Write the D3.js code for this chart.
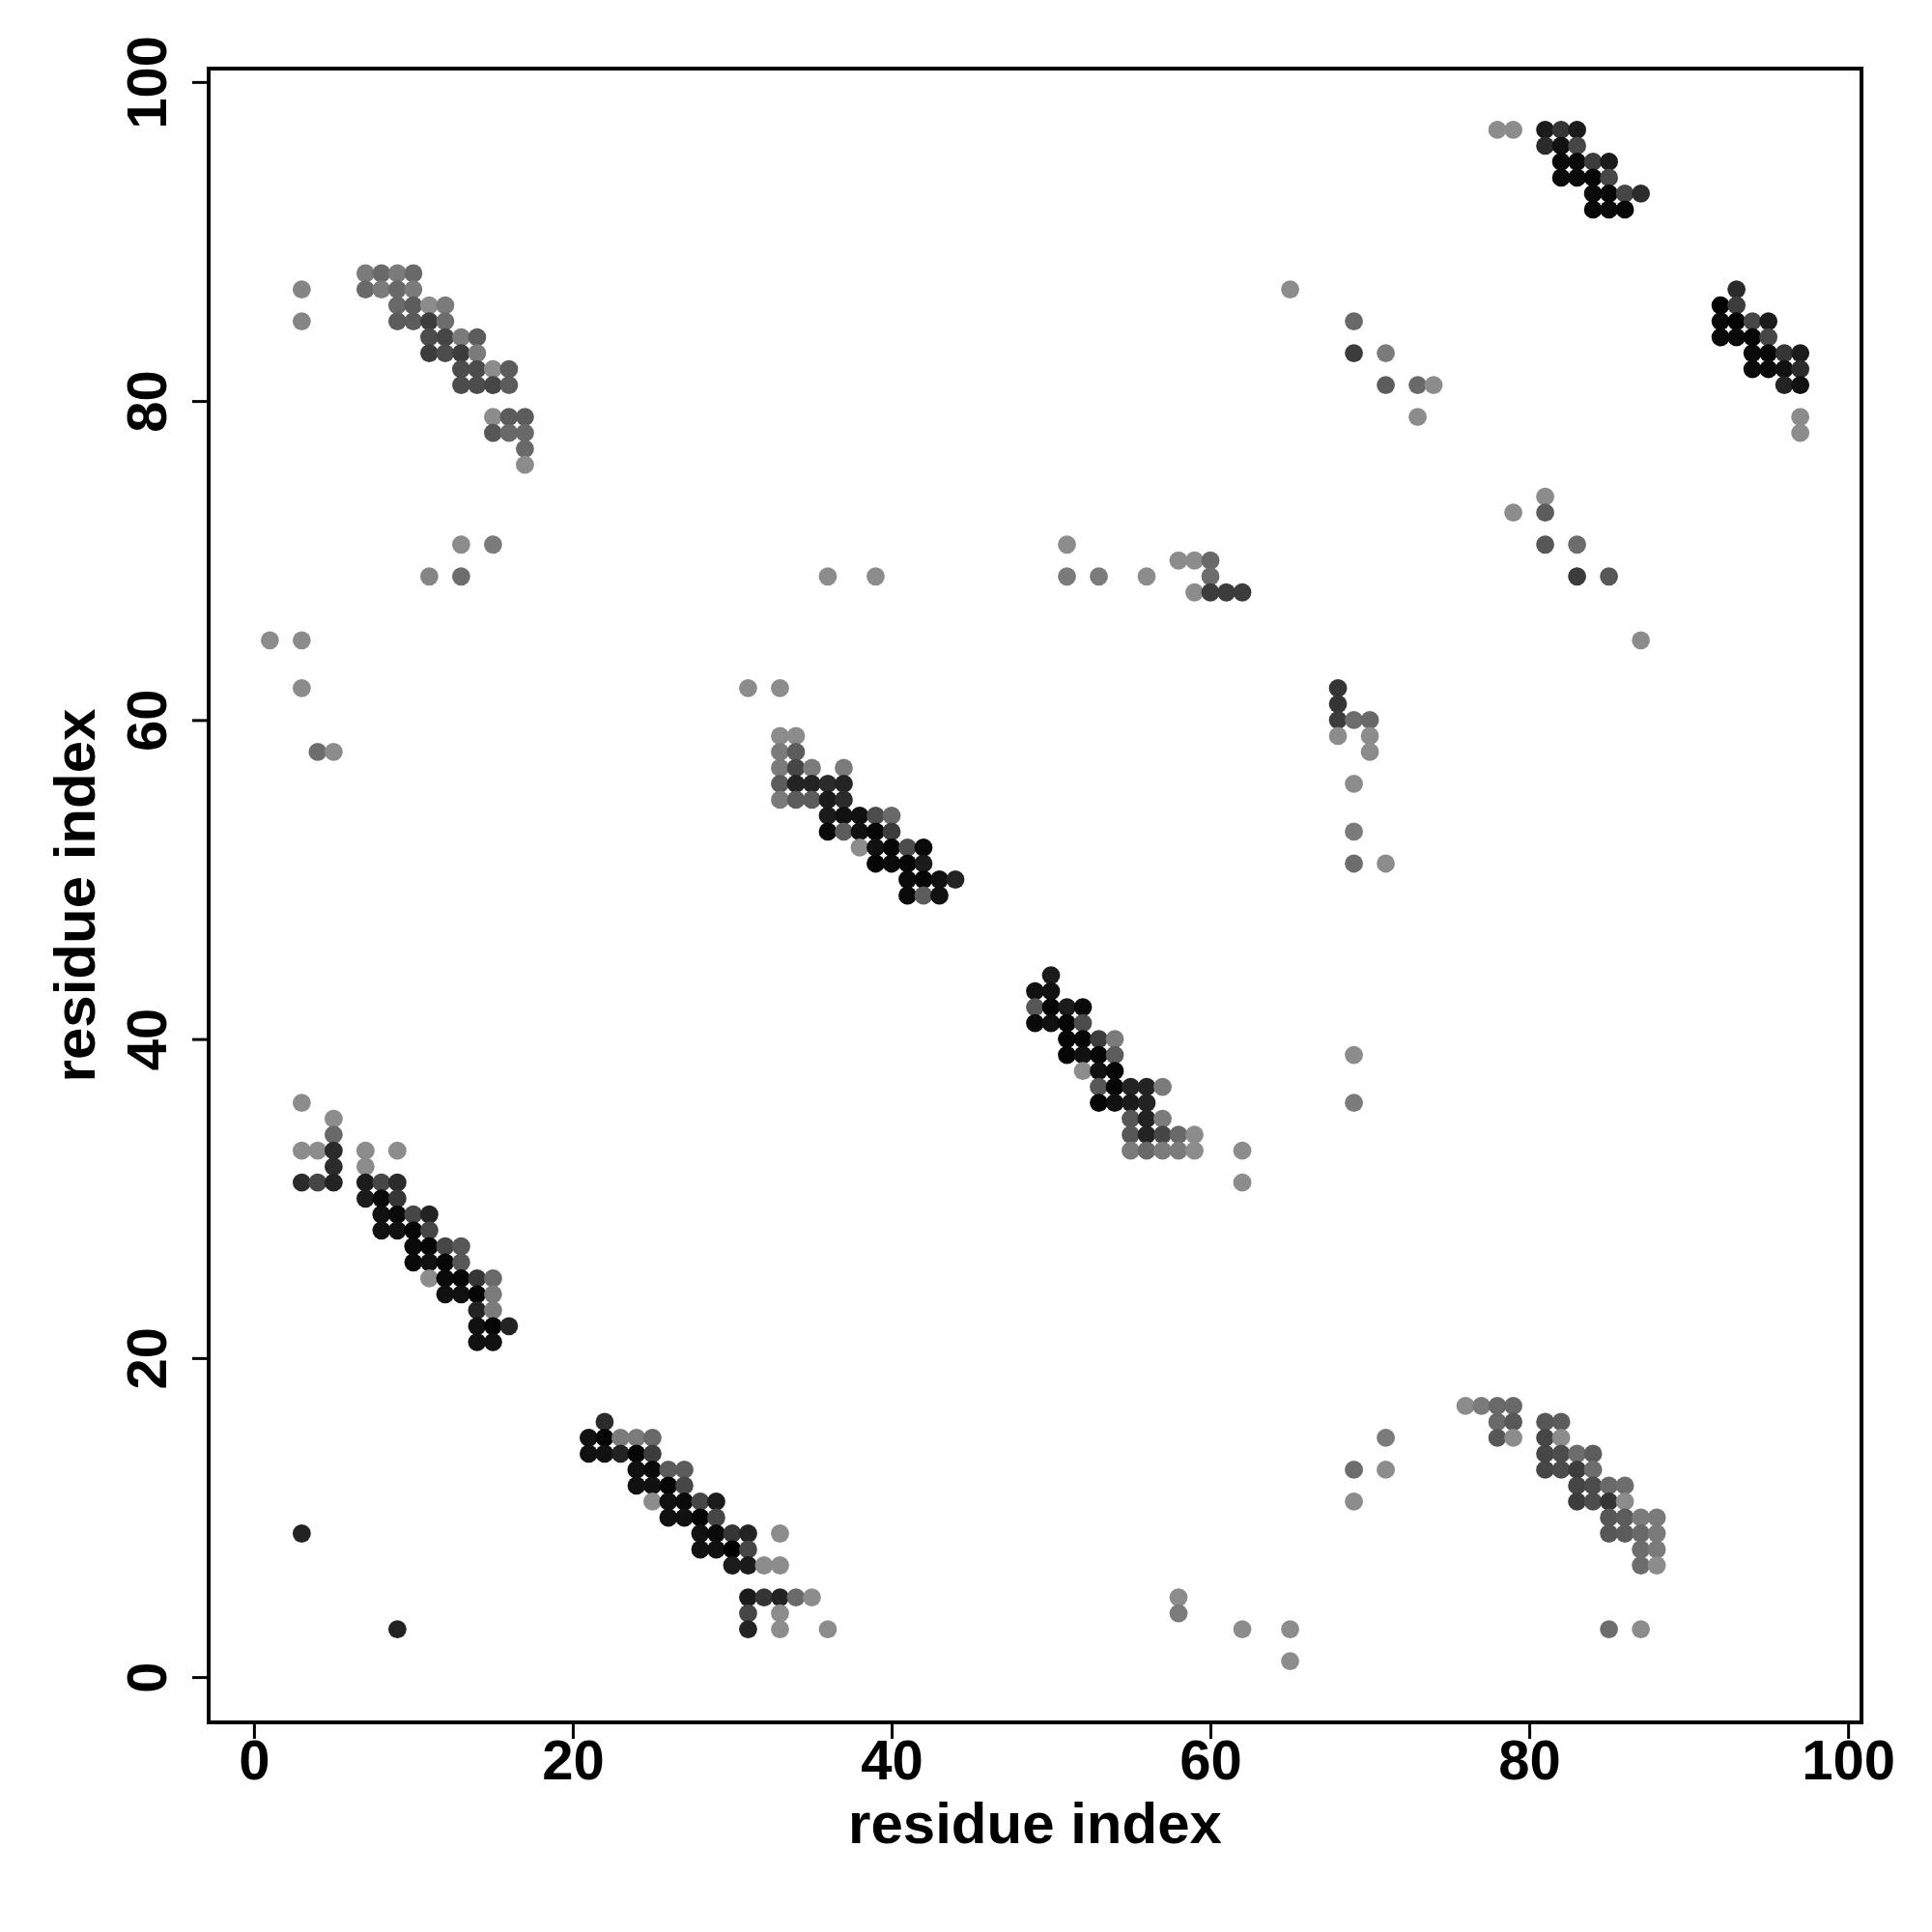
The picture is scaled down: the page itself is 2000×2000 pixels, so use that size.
<!DOCTYPE html>
<html>
<head>
<meta charset="utf-8">
<script src="https://cdn.jsdelivr.net/npm/d3@7"></script>
<style>
  body { margin: 0; background: #fff; }
  text { font-family: "Liberation Sans", Arial, sans-serif; font-weight: bold; }
</style>
</head>
<body>
<svg id="chart"></svg>
<script>
// contacts as [i, j, score]; score 0 = weak (light grey), 1 = strong (black)
const strandTopLeft = [
  [3,87,.05],[3,85,.05],
  [7,88,.12],[8,88,.25],[9,88,.12],[10,88,.25],
  [7,87,.25],[8,87,.12],[9,87,.25],[10,87,.12],
  [9,86,.25],[10,86,.34],[11,86,0],[12,86,.12],
  [9,85,.34],[10,85,.34],[11,85,.57],[12,85,.22],
  [11,84,.46],[12,84,.5],[13,84,.12],[14,84,.34],
  [11,83,.57],[12,83,.46],[13,83,.57],[14,83,.12],
  [13,82,.46],[14,82,.46],[15,82,0],[16,82,.34],
  [13,81,.46],[14,81,.46],[15,81,.5],[16,81,.34],
  [15,79,0],[16,79,.34],[17,79,.34],
  [15,78,.38],[16,78,.25],[17,78,.25],
  [17,77,.25],[17,76,0]
];
const sparseLeft = [
  [13,71,0],[15,71,.12],[11,69,.05],[13,69,.22],
  [1,65,0],[3,65,0],[3,62,0],[4,58,.22],[5,58,0],
  [3,9,.75],[9,3,.75]
];
const strandBottomLeft = [
  [3,36,0],[5,35,0],[5,34,.25],
  [3,33,0],[4,33,0],[5,33,.69],[7,33,0],[9,33,0],
  [5,32,.69],[7,32,0],
  [3,31,.69],[4,31,.5],[5,31,.75],[7,31,.81],[8,31,.5],[9,31,.69],
  [7,30,.81],[8,30,.93],[9,30,.62],
  [8,29,.88],[9,29,.93],[10,29,.5],[11,29,.75],
  [8,28,.88],[9,28,.88],[10,28,.96],[11,28,.5],
  [10,27,.93],[11,27,.96],[12,27,.5],[13,27,.38],
  [10,26,.93],[11,26,.88],[12,26,.96],[13,26,.38],
  [11,25,0],[12,25,.93],[13,25,.96],[14,25,.62],[15,25,.25],
  [12,24,.88],[13,24,.88],[14,24,.96],[15,24,.12],
  [14,23,.75],[15,23,.12],
  [14,22,.88],[15,22,.96],[16,22,.75],
  [14,21,.88],[15,21,.88]
];
const strandBottomMid = [
  [22,16,.69],
  [21,15,.88],[22,15,.96],[23,15,.12],[24,15,.12],[25,15,.25],
  [21,14,.88],[22,14,.88],[23,14,.75],[24,14,.96],[25,14,.57],
  [24,13,.88],[25,13,.93],[26,13,.34],[27,13,.34],
  [24,12,.88],[25,12,.88],[26,12,.96],[27,12,.5],
  [25,11,0],[26,11,.88],[27,11,.93],[28,11,.5],[29,11,.81],
  [26,10,.88],[27,10,.88],[28,10,.96],[29,10,.5],
  [28,9,.88],[29,9,.93],[30,9,.62],[31,9,.75],[33,9,0],
  [28,8,.88],[29,8,.88],[30,8,1],[31,8,.5],
  [30,7,.81],[31,7,.81],[32,7,0],[33,7,0],
  [31,5,.81],[32,5,.62],[33,5,.75],[34,5,.25],[35,5,0],
  [31,4,.5],[33,4,0],
  [31,3,.75],[33,3,0],[36,3,0]
];
const strandMiddle = [
  [31,62,0],[33,62,0],[36,69,0],[39,69,0],
  [33,59,0],[34,59,0],
  [33,58,.12],[34,58,.34],
  [33,57,.12],[34,57,.5],[35,57,.12],[37,57,.12],
  [33,56,.34],[34,56,.75],[35,56,.75],[36,56,.69],[37,56,.75],
  [33,55,.12],[34,55,.34],[35,55,.34],[36,55,.81],[37,55,.69],
  [36,54,.81],[37,54,.88],[38,54,.88],[39,54,.46],[40,54,.25],
  [36,53,.93],[37,53,.34],[38,53,.88],[39,53,.96],[40,53,.57],
  [38,52,0],[39,52,.88],[40,52,.96],[41,52,.46],[42,52,.93],
  [39,51,.96],[40,51,.93],[41,51,.96],[42,51,.81],
  [41,50,.93],[42,50,.96],[43,50,.88],[44,50,.75],
  [41,49,.93],[42,49,.34],[43,49,.88]
];
const strandCenter = [
  [50,44,.81],
  [49,43,.88],[50,43,.88],
  [49,42,.38],[50,42,.96],[51,42,.81],[52,42,.93],
  [49,41,.93],[50,41,.88],[51,41,.96],[52,41,.46],
  [51,40,.96],[52,40,.96],[53,40,.57],[54,40,.12],
  [51,39,.96],[52,39,.88],[53,39,.96],[54,39,.34],
  [52,38,0],[53,38,.88],[54,38,.96],
  [53,37,.38],[54,37,.96],[55,37,.75],[56,37,.75],[57,37,.12],
  [53,36,.96],[54,36,.88],[55,36,.81],[56,36,.75],
  [55,35,.38],[56,35,.75],[57,35,.12],
  [55,34,.38],[56,34,.75],[57,34,.5],[58,34,.25],[59,34,0],
  [55,33,.12],[56,33,.25],[57,33,.12],[58,33,.12],[59,33,0],
  [62,33,0],[62,31,0]
];
const sparseUpperMid = [
  [51,71,0],[51,69,.12],[53,69,.12],[56,69,0],
  [58,70,0],[59,70,0],[60,70,.25],[60,69,.22],
  [59,68,0],[60,68,.57],[61,68,.57],[62,68,.57],
  [65,87,0],[69,85,.25],[69,83,.57],[71,83,.12],
  [71,81,.34],[73,81,.25],[74,81,0],[73,79,0]
];
const sparseColumn = [
  [68,62,.62],[68,61,.62],[68,60,.57],[69,60,.22],[70,60,.25],
  [68,59,0],[70,59,0],[70,58,0],[69,56,0],[69,53,.12],
  [69,51,.22],[71,51,0],[69,39,0],[69,36,.12]
];
const strandBottomRight = [
  [58,5,0],[58,4,.12],[62,3,0],[65,3,0],[65,1,0],
  [69,13,.22],[71,15,.12],[71,13,0],[69,11,0],
  [76,17,0],[77,17,.12],[78,17,.25],[79,17,.25],
  [78,16,.25],[79,16,.38],[81,16,.38],[82,16,.34],
  [78,15,.38],[79,15,0],[81,15,.5],[82,15,0],
  [81,14,.5],[82,14,.46],[83,14,.22],[84,14,.34],
  [81,13,.5],[82,13,.46],[83,13,.57],[84,13,.22],
  [83,12,.5],[84,12,.46],[85,12,.25],[86,12,.22],
  [83,11,.57],[84,11,.46],[85,11,.62],[86,11,0],
  [85,10,.38],[86,10,.34],[87,10,.12],[88,10,.12],
  [85,9,.38],[86,9,.34],[87,9,.25],[88,9,.12],
  [87,8,.22],[88,8,.12],
  [87,7,.22],[88,7,0],
  [85,3,.22],[87,3,0]
];
const strandTopRight = [
  [78,97,0],[79,97,0],
  [81,97,.81],[82,97,.62],[83,97,.81],
  [81,96,.69],[82,96,.88],[83,96,.5],
  [82,95,.93],[83,95,.93],[84,95,.57],[85,95,.81],
  [82,94,.93],[83,94,.93],[84,94,.96],[85,94,.5],
  [84,93,.93],[85,93,.96],[86,93,.5],[87,93,.69],
  [84,92,.96],[85,92,.93],[86,92,.96],
  [93,87,.69],
  [92,86,1],[93,86,.57],
  [92,85,.93],[93,85,1],[94,85,.5],[95,85,.81],
  [92,84,.93],[93,84,.93],[94,84,.96],[95,84,.5],
  [94,83,.93],[95,83,.96],[96,83,.62],[97,83,.81],
  [94,82,.93],[95,82,.93],[96,82,.88],[97,82,.69],
  [96,81,.75],[97,81,.88],
  [97,79,0],[97,78,0]
];
const sparseRight = [
  [81,74,0],[79,73,0],[81,73,.34],[81,71,.38],[83,71,.22],
  [83,69,.57],[85,69,.38],[87,65,0]
];

const tickValues = [0, 20, 40, 60, 80, 100];
const xTitle = "residue index";
const yTitle = "residue index";

const contacts = [].concat(strandTopLeft, sparseLeft, strandBottomLeft, strandBottomMid,
    strandMiddle, strandCenter, sparseUpperMid, sparseColumn, strandBottomRight,
    strandTopRight, sparseRight);

const width = 2000, height = 2000;
const frame = { left: 216, right: 1927, top: 71, bottom: 1783 };

// R style 4% padding around the 1..97 data range
const x = d3.scaleLinear().domain([-2.84, 100.84]).range([frame.left, frame.right]);
const y = d3.scaleLinear().domain([-2.84, 100.84]).range([frame.bottom, frame.top]);
const grey = d3.scaleLinear().domain([0, 1]).range(["#8c8c8c", "#000000"]);

const svg = d3.select("#chart")
    .attr("width", width)
    .attr("height", height)
    .style("background", "#fff");

svg.append("g")
    .selectAll("circle")
    .data(contacts)
    .join("circle")
    .attr("cx", d => x(d[0]))
    .attr("cy", d => y(d[1]))
    .attr("r", 9.4)
    .attr("fill", d => grey(d[2]));

// frame
svg.append("rect")
    .attr("x", frame.left)
    .attr("y", frame.top)
    .attr("width", frame.right - frame.left)
    .attr("height", frame.bottom - frame.top)
    .attr("fill", "none")
    .attr("stroke", "#000")
    .attr("stroke-width", 4);

const xAxis = svg.append("g")
    .attr("transform", `translate(0,${frame.bottom})`)
    .call(d3.axisBottom(x).tickValues(tickValues).tickSize(17).tickSizeOuter(0));
xAxis.select(".domain").remove();
xAxis.selectAll(".tick line").attr("stroke-width", 3);
xAxis.selectAll(".tick text")
    .attr("y", 59)
    .attr("dy", 0)
    .attr("fill", "#000")
    .style("font-size", "58px")
    .style("font-family", "Liberation Sans, Arial, sans-serif")
    .style("font-weight", "bold");

const yAxis = svg.append("g")
    .attr("transform", `translate(${frame.left},0)`)
    .call(d3.axisLeft(y).tickValues(tickValues).tickSize(17).tickSizeOuter(0));
yAxis.select(".domain").remove();
yAxis.selectAll(".tick line").attr("stroke-width", 3);
yAxis.selectAll(".tick text")
    .attr("x", 0)
    .attr("dy", 0)
    .attr("transform", "translate(-44,0) rotate(-90)")
    .attr("text-anchor", "middle")
    .attr("fill", "#000")
    .style("font-size", "58px")
    .style("font-family", "Liberation Sans, Arial, sans-serif")
    .style("font-weight", "bold");

svg.append("text")
    .attr("x", (frame.left + frame.right) / 2)
    .attr("y", 1908)
    .attr("text-anchor", "middle")
    .style("font-size", "60px")
    .text(xTitle);

svg.append("text")
    .attr("transform", `translate(98,${(frame.top + frame.bottom) / 2}) rotate(-90)`)
    .attr("text-anchor", "middle")
    .style("font-size", "60px")
    .text(yTitle);
</script>
</body>
</html>
